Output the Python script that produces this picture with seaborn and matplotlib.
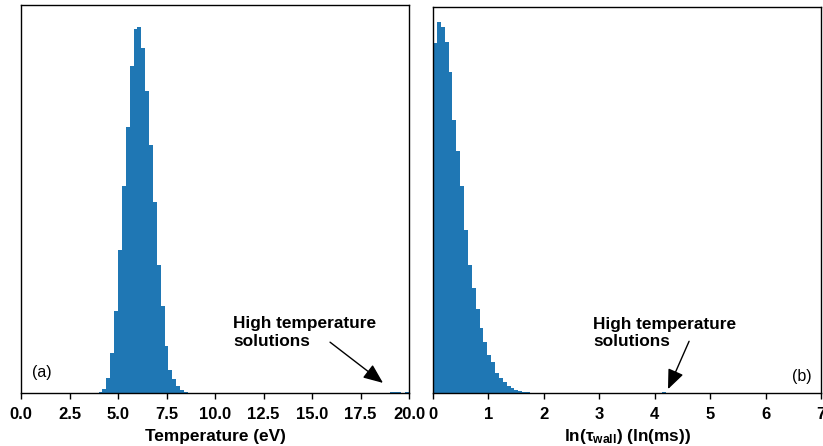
import numpy as np
import pandas as pd
import matplotlib
matplotlib.use("Agg")
import matplotlib.pyplot as plt
import seaborn as sns

# ---- data (bin start values and bar heights, arbitrary count units) ----
temp_bins = [4.0, 4.2, 4.4, 4.6, 4.8, 5.0, 5.2, 5.4, 5.6, 5.8, 6.0, 6.2, 6.4,
             6.6, 6.8, 7.0, 7.2, 7.4, 7.6, 7.8, 8.0, 8.2, 8.4,
             19.0, 19.2, 19.4, 19.8]
temp_counts = [3, 13, 45, 120, 246, 430, 621, 798, 981, 1091, 1098, 1035, 906,
               743, 573, 383, 260, 140, 70, 42, 21, 8, 3,
               3, 3, 3, 3]

tau_bins = [0.00, 0.07, 0.14, 0.21, 0.28, 0.35, 0.42, 0.49, 0.56, 0.63, 0.70,
            0.77, 0.84, 0.91, 0.98, 1.05, 1.12, 1.19, 1.26, 1.33, 1.40, 1.47,
            1.54, 1.61, 1.68, 1.75, 4.13]
tau_counts = [1055, 1117, 1102, 1057, 968, 823, 730, 625, 490, 385, 316,
              253, 196, 154, 115, 94, 61, 46, 34, 22, 16, 10,
              6, 3, 2, 1, 3]

temp_ticks = [0.0, 2.5, 5.0, 7.5, 10.0, 12.5, 15.0, 17.5, 20.0]
tau_ticks = [0, 1, 2, 3, 4, 5, 6, 7]

temp_range = (0, 20)
tau_range = (0, 7)
n_bins = 100
y_top = 1163

sns.set_theme(style="white")
plt.rcParams["font.family"] = ["Liberation Sans", "DejaVu Sans"]
plt.rcParams["mathtext.fontset"] = "custom"
plt.rcParams["mathtext.rm"] = "Liberation Sans:bold"
plt.rcParams["mathtext.it"] = "Liberation Sans:bold"
plt.rcParams["mathtext.bf"] = "Liberation Sans:bold"
plt.rcParams["axes.edgecolor"] = "black"
plt.rcParams["axes.linewidth"] = 1.0
plt.rcParams["text.color"] = "black"
plt.rcParams["axes.labelcolor"] = "black"
plt.rcParams["xtick.color"] = "black"

W, H = 823, 446
fig = plt.figure(figsize=(W / 100, H / 100), dpi=100)
ax1 = fig.add_axes([21 / W, (H - 393) / H, 388 / W, 388 / H])
ax2 = fig.add_axes([433 / W, (H - 393) / H, 388 / W, 386 / H])

color = "#1f77b4"

def draw(ax, bins, counts, rng, step_div):
    w = (rng[1] - rng[0]) / step_div
    df = pd.DataFrame({"x": np.asarray(bins, dtype=float) + w / 2,
                       "w": np.asarray(counts, dtype=float)})
    sns.histplot(data=df, x="x", weights="w", binwidth=w, binrange=rng, ax=ax,
                 color=color, alpha=1.0, edgecolor="none", linewidth=0)
    ax.set_xlim(*rng)
    ax.set_ylim(0, y_top)
    ax.set_yticks([])
    ax.set_ylabel("")
    for s in ax.spines.values():
        s.set_visible(True)
        s.set_color("black")
    ax.tick_params(axis="x", direction="out", length=4, width=1,
                   bottom=True, labelsize=12, pad=6, colors="black")

draw(ax1, temp_bins, temp_counts, temp_range, n_bins)
ax1.set_xticks(temp_ticks)
ax1.set_xticklabels([f"{t:.1f}" for t in temp_ticks], fontweight="bold")
ax1.set_xlabel("Temperature (eV)", fontsize=12.4, fontweight="bold", labelpad=5)

draw(ax2, tau_bins, tau_counts, tau_range, n_bins)
ax2.set_xticks(tau_ticks)
ax2.set_xticklabels([str(t) for t in tau_ticks], fontweight="bold")
ax2.set_xlabel(r"ln($\tau_{\mathrm{wall}}$) (ln(ms))", fontsize=12.4,
               fontweight="bold", labelpad=4)

arrow = dict(arrowstyle="-|>,head_length=0.6,head_width=0.25", color="black",
             lw=1.0, mutation_scale=20, shrinkA=0, shrinkB=0)

# panel (a)
ax1.text(0.028, 0.054, "(a)", transform=ax1.transAxes, fontsize=11.5,
         ha="left", va="center")
ax1.text(10.93, 0.198 * y_top, "High temperature\nsolutions", fontsize=12.4,
         fontweight="bold", ha="left", va="top", linespacing=1.2)
ax1.annotate("", xy=(18.66, 0.026 * y_top), xytext=(15.93, 0.131 * y_top),
             arrowprops=arrow)

# panel (b)
ax2.text(0.977, 0.044, "(b)", transform=ax2.transAxes, fontsize=11.5,
         ha="right", va="center")
ax2.text(2.89, 0.198 * y_top, "High temperature\nsolutions", fontsize=12.4,
         fontweight="bold", ha="left", va="top", linespacing=1.2)
ax2.annotate("", xy=(4.24, 0.010 * y_top), xytext=(4.62, 0.134 * y_top),
             arrowprops=arrow)

fig.savefig("out.png", dpi=100)
